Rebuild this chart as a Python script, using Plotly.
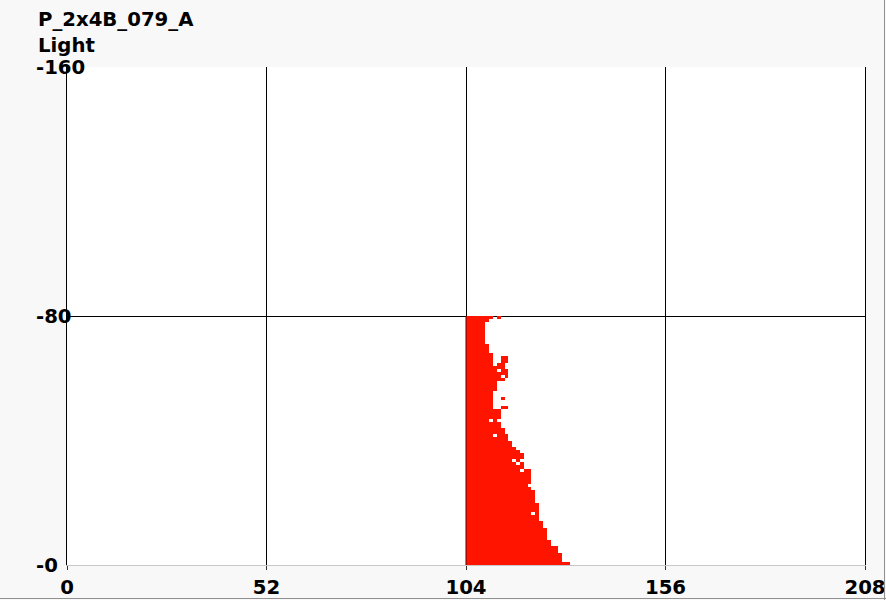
import numpy as np
import plotly.graph_objects as go

# ---- data ----
title_lines = ["P_2x4B_079_A", "Light"]
x_ticks = [0, 52, 104, 156, 208]
y_ticks = [-160, -80, 0]
y_tick_labels = ["-160", "-80", "-0"]
x_start = 104  # first filled column
# number of filled columns from x_start, per row (row 0 = y 0..-1, bottom)
row_widths = [27, 25, 25, 25, 24, 24, 22, 22, 21, 21,
              21, 21, 20, 20, 19, 19, 19, 19, 19, 19,
              18, 18, 18, 18, 17, 16, 17, 17, 17, 17,
              17, 15, 15, 14, 15, 15, 14, 13, 12, 12,
              11, 11, 10, 10, 9, 9, 8, 9, 9, 9,
              11, 7, 7, 10, 7, 7, 8, 8, 8, 10,
              11, 11, 11, 10, 10, 11, 11, 7, 6, 6,
              6, 5, 5, 5, 5, 5, 5, 5, 6, 9]
# empty cells inside the filled runs: (row, column offset)
holes = [(16, 17), (30, 14), (32, 13), (33, 12), (41, 7), (46, 6),
         (50, 7), (50, 8), (53, 7), (53, 8), (60, 9), (62, 8),
         (64, 7), (65, 7), (65, 8), (66, 7), (66, 8), (79, 7)]

n_rows = len(row_widths)
n_cols = max(row_widths)
z = np.full((n_rows, n_cols), np.nan)
for r, w in enumerate(row_widths):
    z[r, :w] = 1
for r, c in holes:
    z[r, c] = np.nan

x_edges = [x_start + i for i in range(n_cols + 1)]
y_edges = [-i for i in range(n_rows + 1)]

font_b = dict(family="DejaVu Sans", size=19.7, color="black", weight="bold")

fig = go.Figure(go.Heatmap(
    z=z, x=x_edges, y=y_edges,
    colorscale=[[0, "#ff1400"], [1, "#ff1400"]],
    showscale=False, hoverongaps=False,
))

L, R, T, B = 67, 21, 67, 35
W, H = 886, 600
pw, ph = W - L - R, H - T - B

annotations = []
for i, t in enumerate(title_lines):
    annotations.append(dict(
        text=t, xref="paper", yref="paper",
        x=(36 - L) / pw, y=(ph + T - (20 + 26 * i)) / ph,
        xanchor="left", yanchor="middle", showarrow=False, font=font_b))
for v, t in zip(y_ticks, y_tick_labels):
    annotations.append(dict(
        text=t, xref="paper", yref="y", x=(34 - L) / pw, y=v,
        xanchor="left", yanchor="middle", showarrow=False, font=font_b))

fig.update_layout(
    width=W, height=H,
    margin=dict(l=L, r=R, t=T, b=B, pad=0, autoexpand=False),
    paper_bgcolor="#f8f8f8", plot_bgcolor="white",
    showlegend=False,
    annotations=annotations,
    xaxis=dict(range=[0, 208], tickvals=x_ticks, ticktext=[str(v) for v in x_ticks],
               showgrid=True, gridcolor="black", gridwidth=1,
               ticks="outside", ticklen=4, tickcolor="#333", tickwidth=1,
               showline=True, linecolor="#c8c8c8", linewidth=1,
               zeroline=False, tickfont=font_b, automargin=False),
    yaxis=dict(range=[0, -160], tickvals=y_ticks, showticklabels=False,
               showgrid=True, gridcolor="black", gridwidth=1,
               showline=True, linecolor="black", linewidth=1, mirror=True,
               zeroline=False, ticks="", automargin=False),
    shapes=[
        dict(type="line", xref="x", yref="y",
             x0=x_start, x1=x_start, y0=0, y1=-n_rows,
             line=dict(color="#5a0000", width=1), layer="above"),
        dict(type="line", xref="paper", yref="paper",
             x0=(W - 1.5 - L) / pw, x1=(W - 1.5 - L) / pw,
             y0=(ph + T - H) / ph, y1=(ph + T) / ph,
             line=dict(color="#909090", width=1)),
        dict(type="line", xref="paper", yref="paper",
             x0=-L / pw, x1=(W - L) / pw,
             y0=(ph + T - (H - 1.5)) / ph, y1=(ph + T - (H - 1.5)) / ph,
             line=dict(color="#909090", width=1)),
    ],
)

fig.write_html(
    "out.html",
    config={"displayModeBar": False},
    post_script="document.body.style.margin='0';document.body.style.overflow='hidden';",
)
